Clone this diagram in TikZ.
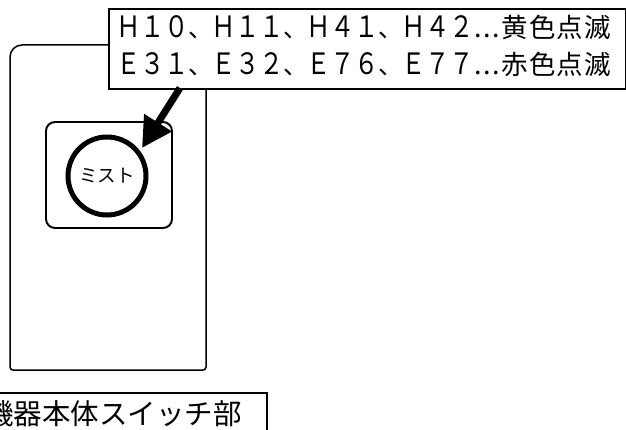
\documentclass[tikz,border=0pt]{standalone}
\usepackage{fontspec}
\usepackage{graphicx}
\setmainfont{Noto Sans CJK JP}
\usetikzlibrary{arrows.meta}
\newcommand{\fwch}[1]{\makebox[23.75pt][c]{\scalebox{1}[1.2]{\fontsize{24.5}{26}\selectfont #1}}}
\newcommand{\fwcm}{\makebox[23.75pt][c]{\fontsize{24.5}{26}\selectfont 、}}
\newcommand{\fwdots}{\hbox to 28pt{\fontsize{27}{28}\selectfont\hfil.\hfil.\hfil.\hfil}}
\newcommand{\fwkj}[1]{\makebox[27.5pt][c]{\fontsize{26.5}{28}\selectfont #1}}
\begin{document}
\begin{tikzpicture}[x=1pt,y=-1pt,
  thinline/.style={line width=1.5pt},
  boxline/.style={draw, line width=1.7pt, inner sep=0pt},
  bigtxt/.style={inner sep=0pt},
  ptr/.style={line width=7pt, -{Triangle[length=30pt,width=31pt]}}]
\useasboundingbox (0,0) rectangle (626,430);
% device body
\draw[thinline, rounded corners=3pt] (206,80) -- (206,370) -- (10,370) -- (10,200);
\draw[thinline, rounded corners=12pt] (10,200) -- (10,45) -- (150,45);
% switch frame
\node (sw) [draw, line width=1.9pt, rounded corners=9pt, minimum width=126pt, minimum height=106pt] at (109,175) {};
% mist button
\node (mist) [circle, draw, line width=5pt, minimum size=78pt, inner sep=0pt,
  font=\fontsize{18.5}{20}\selectfont] at (107,176) {ミスト};
% label box
\node (lbl) [boxline, fill=white, anchor=north west, minimum width=517pt, minimum height=80pt] at (108,8) {};
\node (l1) [bigtxt, anchor=base west] at (117,38) {\fwch{Ｈ}\fwch{１}\fwch{０}\fwcm\fwch{Ｈ}\fwch{１}\fwch{１}\fwcm\fwch{Ｈ}\fwch{４}\fwch{１}\fwcm\fwch{Ｈ}\fwch{４}\fwch{２}\fwdots\fwkj{黄}\fwkj{色}\fwkj{点}\fwkj{滅}};
\node (l2) [bigtxt, anchor=base west] at (117,75) {\fwch{Ｅ}\fwch{３}\fwch{１}\fwcm\fwch{Ｅ}\fwch{３}\fwch{２}\fwcm\fwch{Ｅ}\fwch{７}\fwch{６}\fwcm\fwch{Ｅ}\fwch{７}\fwch{７}\fwdots\fwkj{赤}\fwkj{色}\fwkj{点}\fwkj{滅}};
% arrow
\coordinate (from) at (180,88);
\coordinate (tip) at (142,148);
\draw[ptr] (from) -- (tip);
% bottom caption
\node (cap) [boxline, anchor=north east, minimum width=300pt, minimum height=60pt] at (268,392) {};
\node (capt) [inner sep=0pt, anchor=base east, font=\fontsize{28.5}{32}\selectfont] at (242,424) {機器本体スイッチ部};
\end{tikzpicture}
\end{document}
